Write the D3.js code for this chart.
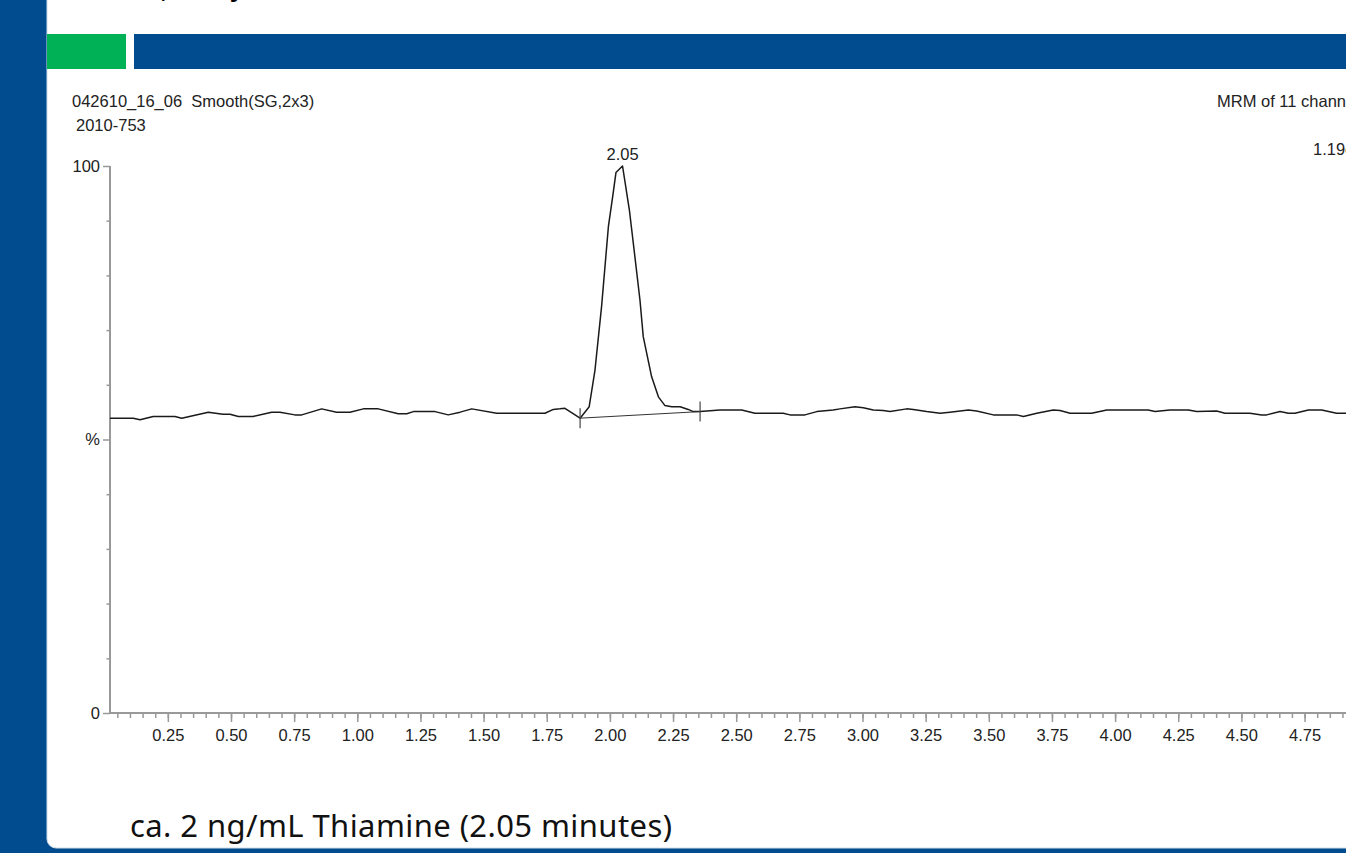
<!DOCTYPE html>
<html lang="en">
  <head>
    <meta charset="UTF-8" />
    <script src="https://d3js.org/d3.v7.min.js"></script>
    <title>Thiamine chromatogram</title>
    <style>
      body { margin: 0; overflow: hidden; }
      .lbl { font-family: 'Liberation Sans', Arial, sans-serif; font-size: 16.5px; fill: #222; }
    </style>
  </head>
  <body>
    <div id="chart"></div>
    <script>
      // retention time (min) and relative intensity (%)
      const times = [
        0.021, 0.113, 0.140, 0.192, 0.278, 0.305, 0.410, 0.468, 0.496, 0.529,
        0.587, 0.661, 0.694, 0.753, 0.780, 0.859, 0.918, 0.971, 1.024, 1.083,
        1.162, 1.196, 1.222, 1.308, 1.360, 1.407, 1.453, 1.552, 1.743, 1.776,
        1.802, 1.822, 1.882, 1.918, 1.941, 1.967, 1.994, 2.011, 2.024, 2.050,
        2.077, 2.099, 2.119, 2.132, 2.165, 2.192, 2.218, 2.245, 2.278, 2.310,
        2.330, 2.357, 2.436, 2.522, 2.574, 2.686, 2.713, 2.772, 2.819, 2.884,
        2.911, 2.970, 3.003, 3.043, 3.082, 3.109, 3.175, 3.201, 3.254, 3.307,
        3.346, 3.419, 3.452, 3.518, 3.610, 3.637, 3.690, 3.755, 3.782, 3.822,
        3.907, 3.967, 4.131, 4.158, 4.217, 4.290, 4.323, 4.402, 4.435, 4.534,
        4.580, 4.600, 4.653, 4.686, 4.712, 4.765, 4.818, 4.877, 4.914, 4.950
      ]
      const intensity = [
        53.9, 53.9, 53.6, 54.2, 54.2, 53.9, 55.0, 54.6, 54.6, 54.2,
        54.2, 55.0, 55.0, 54.5, 54.5, 55.6, 55.0, 55.0, 55.6, 55.6,
        54.7, 54.7, 55.1, 55.1, 54.5, 55.0, 55.6, 54.8, 54.8, 55.5,
        55.6, 55.7, 53.9, 56.0, 62.7, 74.3, 88.9, 94.4, 98.8, 100,
        92.0, 83.4, 75.5, 68.8, 61.5, 57.8, 56.2, 56.0, 56.0, 55.5,
        55.1, 55.1, 55.4, 55.4, 54.8, 54.8, 54.5, 54.5, 55.1, 55.4,
        55.6, 56.0, 55.8, 55.4, 55.3, 55.1, 55.6, 55.5, 55.1, 54.8,
        55.0, 55.4, 55.2, 54.5, 54.5, 54.2, 54.8, 55.4, 55.3, 54.8,
        54.8, 55.4, 55.4, 55.1, 55.4, 55.4, 55.1, 55.2, 54.8, 54.8,
        54.5, 54.5, 55.1, 54.8, 54.8, 55.4, 55.4, 54.8, 54.8, 54.8
      ]

      // integration limits of the peak [time, intensity]
      const peakStart = [1.882, 53.9]
      const peakEnd = [2.357, 55.1]
      const peakApex = 2.05

      // ticks
      const xMajor = d3.range(0.25, 5.01, 0.25)
      const xMinor = d3.range(0.05, 5.01, 0.05)
      const yMajor = [0, 50, 100]
      const yMajorLabels = ['0', '%', '100']
      const yMinor = [10, 20, 30, 40, 60, 70, 80, 90]

      const blue = '#004c8f', green = '#00b156'
      const W = 1346, H = 853

      const svg = d3
        .select('#chart')
        .append('svg')
        .attr('width', W)
        .attr('height', H)

      // slide frame
      svg.append('rect').attr('width', W).attr('height', H).attr('fill', blue)
      svg
        .append('rect')
        .attr('x', 47)
        .attr('y', -20)
        .attr('width', W)
        .attr('height', 868)
        .attr('rx', 9)
        .attr('fill', '#fff')
        .attr('stroke', '#cfdcea')
      svg.append('rect').attr('x', 47).attr('y', 34).attr('width', 79).attr('height', 35).attr('fill', green)
      svg.append('rect').attr('x', 134).attr('y', 34).attr('width', W).attr('height', 35).attr('fill', blue)

      // title cut off at top of the slide
      svg
        .append('text')
        .attr('x', 105)
        .attr('y', -3)
        .style('font-family', 'Liberation Sans, Arial, sans-serif')
        .style('font-weight', 'bold')
        .style('font-size', '26px')
        .text('LOD, Analysis')

      const x = d3.scaleLinear().domain([0, 5]).range([104.7, 1367.7])
      const y = d3.scaleLinear().domain([0, 100]).range([713, 166])
      const x0 = x(times[0])

      // header texts
      const header = [
        { x: 72, y: 107, text: '042610_16_06  Smooth(SG,2x3)', anchor: 'start' },
        { x: 76, y: 131, text: '2010-753', anchor: 'start' },
        { x: 1217, y: 107, text: 'MRM of 11 channels,ES+', anchor: 'start' },
        { x: 1313, y: 155, text: '1.19e4', anchor: 'start' }
      ]
      svg
        .append('g')
        .selectAll('text')
        .data(header)
        .join('text')
        .attr('class', 'lbl')
        .attr('x', d => d.x)
        .attr('y', d => d.y)
        .attr('text-anchor', d => d.anchor)
        .style('white-space', 'pre')
        .text(d => d.text)

      // x axis
      const axisColor = '#999'
      const gx = svg.append('g').attr('transform', `translate(0, ${y(0)})`)
      gx.append('g')
        .call(d3.axisBottom(x).tickValues(xMinor).tickSize(5).tickFormat(''))
      gx.append('g')
        .call(
          d3.axisBottom(x).tickValues(xMajor).tickSize(9).tickPadding(7).tickFormat(d3.format('.2f'))
        )
      gx.selectAll('.domain').remove()
      gx.append('line').attr('x1', x0 - 1).attr('x2', W + 10).attr('stroke', axisColor).attr('stroke-width', 2)

      // y axis
      const gy = svg.append('g').attr('transform', `translate(${x0}, 0)`)
      gy.append('g')
        .call(d3.axisLeft(y).tickValues(yMinor).tickSize(3.5).tickFormat(''))
      gy.append('g')
        .call(
          d3.axisLeft(y).tickValues(yMajor).tickSize(7).tickPadding(3)
            .tickFormat((d, i) => yMajorLabels[i])
        )
      gy.selectAll('.domain').remove()
      gy.append('line').attr('y1', y(100)).attr('y2', y(0) + 1).attr('stroke', axisColor).attr('stroke-width', 2)

      svg.selectAll('.tick line').attr('stroke', axisColor).attr('stroke-width', 1.5)
      svg.selectAll('.tick text').attr('class', 'lbl').attr('fill', null)

      // chromatogram trace
      const data = times.map((t, i) => [t, intensity[i]])
      svg
        .append('path')
        .datum(data)
        .attr('d', d3.line().x(d => x(d[0])).y(d => y(d[1])))
        .attr('fill', 'none')
        .attr('stroke', '#1a1a1a')
        .attr('stroke-width', 1.5)
        .attr('stroke-linejoin', 'round')

      // integration baseline and limit marks
      svg
        .append('line')
        .attr('x1', x(peakStart[0]))
        .attr('y1', y(peakStart[1]))
        .attr('x2', x(peakEnd[0]))
        .attr('y2', y(peakEnd[1]))
        .attr('stroke', '#333')
        .attr('stroke-width', 1)
      svg
        .append('g')
        .selectAll('line')
        .data([peakStart, peakEnd])
        .join('line')
        .attr('x1', d => x(d[0]))
        .attr('x2', d => x(d[0]))
        .attr('y1', d => y(d[1]) - 10)
        .attr('y2', d => y(d[1]) + 10)
        .attr('stroke', '#444')
        .attr('stroke-width', 1.2)

      // apex label
      svg
        .append('text')
        .attr('class', 'lbl')
        .attr('x', x(peakApex))
        .attr('y', y(100) - 6)
        .attr('text-anchor', 'middle')
        .text(peakApex.toFixed(2))

      // caption
      svg
        .append('text')
        .attr('x', 130)
        .attr('y', 837)
        .attr('textLength', 542)
        .style('font-family', "'Noto Sans', sans-serif")
        .style('font-size', '31px')
        .style('fill', '#111')
        .text('ca. 2 ng/mL Thiamine (2.05 minutes)')
    </script>
  </body>
</html>
